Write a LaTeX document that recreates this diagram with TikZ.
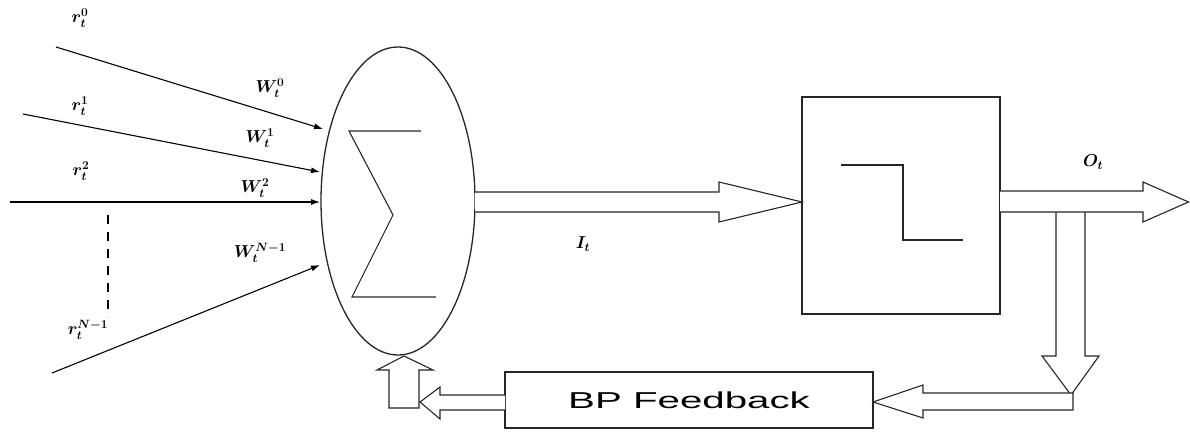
\documentclass[tikz,border=0pt]{standalone}
\usepackage{fontspec}
\usepackage{graphicx}
\newfontfamily\labelsans{Liberation Sans}
\usetikzlibrary{arrows.meta,shapes.geometric}
\begin{document}
\begin{tikzpicture}[x=1pt,y=-1pt,
  line/.style={line width=1.1pt,draw=black!85},
  inarrow/.style={line width=1.1pt,-{Latex[length=9pt,width=6pt]}},
  blockarrow/.style={line width=1.1pt,draw=black!85,fill=white,line join=miter},
  lbl/.style={inner sep=0pt,font=\fontsize{17}{19}\selectfont\boldmath}]
\useasboundingbox (0,0) rectangle (1190,431);
% up arrow into the summing node (drawn first so the ellipse crosses it)
\draw[blockarrow] (389,408) -- (389,370) -- (377,370) -- (404,356) -- (433,370) -- (419,370) -- (419,408) -- cycle;
% nodes
\node[ellipse,line width=1.3pt,draw=black!85,minimum width=154pt,minimum height=308pt,inner sep=0pt] (sum) at (398,201) {};
\node[rectangle,line width=1.3pt,draw=black!85,minimum width=198pt,minimum height=217pt,inner sep=0pt] (act) at (901,205.5) {};
\node[rectangle,line width=1.3pt,draw=black!85,minimum width=368pt,minimum height=56pt,inner sep=0pt] (fb) at (689,400) {\labelsans\fontsize{23}{25}\selectfont\scalebox{1.75}[1]{BP Feedback}};
% sigma
\draw[line] (421,131) -- (349,131) -- (393,215) -- (352,297) -- (436,297);
% step
\draw[line] (841,165) -- (903,165) -- (903,240) -- (963,240);
% inputs
\coordinate (s0) at (56,47);   \coordinate (t0) at (323,129);
\coordinate (s1) at (23,114);  \coordinate (t1) at (320,172);
\coordinate (s2) at (10,202);  \coordinate (t2) at (320,202);
\coordinate (s3) at (52,373);  \coordinate (t3) at (320,265);
\draw[inarrow] (s0) -- (t0);
\draw[inarrow] (s1) -- (t1);
\draw[inarrow] (s2) -- (t2);
\draw[inarrow] (s3) -- (t3);
\coordinate (d0) at (108,215); \coordinate (d1) at (108,317);
\draw[line width=1.4pt,dash pattern=on 9pt off 8pt] (d0) -- (d1);
% labels
\node[lbl] (r0) at (80,18) {$r_t^0$};
\node[lbl] (r1) at (80,106) {$r_t^1$};
\node[lbl] (r2) at (81,171) {$r_t^2$};
\node[lbl] (rn) at (88,330) {$r_t^{N-1}$};
\node[lbl] (w0) at (270,88) {$W_t^0$};
\node[lbl] (w1) at (260,138) {$W_t^1$};
\node[lbl] (w2) at (255,188) {$W_t^2$};
\node[lbl] (wn) at (260,253) {$W_t^{N-1}$};
\node[lbl] (it) at (583,244) {$I_t$};
\node[lbl] (ot) at (1093,162) {$O_t$};
% block arrows
\draw[blockarrow] (475,192) -- (719,192) -- (719,182) -- (802,202) -- (719,222) -- (719,212) -- (475,212);
\draw[blockarrow] (1056,211) -- (1056,356) -- (1042,356) -- (1071,395) -- (1099,356) -- (1085,356) -- (1085,211);
\draw[blockarrow] (1000,191) -- (1143,191) -- (1143,182) -- (1188.5,202) -- (1143,222) -- (1143,212) -- (1000,212);
\draw[blockarrow] (1073,393) -- (923,393) -- (923,385) -- (873,402) -- (923,418) -- (923,410) -- (1073,410) -- cycle;
\draw[blockarrow] (505,395) -- (440,395) -- (440,387) -- (420,402) -- (440,419) -- (440,410) -- (505,410);
\end{tikzpicture}
\end{document}
